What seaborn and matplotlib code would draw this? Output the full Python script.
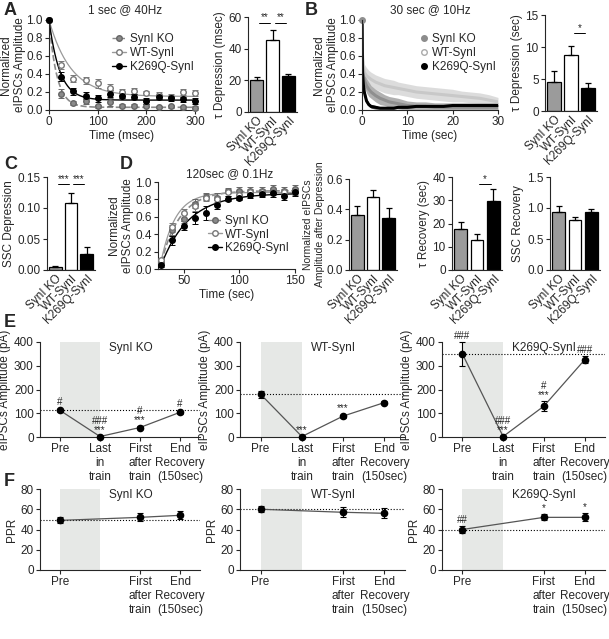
import numpy as np
import seaborn as sns
import matplotlib.pyplot as plt
from matplotlib.lines import Line2D

sns.set_style("ticks")
plt.rcParams['font.family'] = ['Liberation Sans', 'DejaVu Sans']
plt.rcParams['axes.linewidth'] = 0.8

FS = 8.5
groups = ['SynI KO', 'WT-SynI', 'K269Q-SynI']
bar_colors = ['#9b9b9b', 'white', 'black']
KO_GRAY = '#8a8a8a'
WT_GRAY = '#9a9a9a'

# ---- A: 1 sec @ 40Hz ----
a_time = [0, 25, 50, 75, 100, 125, 150, 175, 200, 225, 250, 275, 300]
a_ko = [1.0, 0.18, 0.08, 0.10, 0.04, 0.09, 0.05, 0.05, 0.05, 0.03, 0.04, 0.03, 0.02]
a_ko_err = [0, 0.05, 0.02, 0.03, 0.02, 0.04, 0.02, 0.02, 0.02, 0.01, 0.02, 0.02, 0.02]
a_wt = [1.0, 0.50, 0.35, 0.33, 0.30, 0.25, 0.20, 0.21, 0.19, 0.17, 0.15, 0.20, 0.19]
a_wt_err = [0, 0.04, 0.04, 0.04, 0.05, 0.04, 0.03, 0.03, 0.02, 0.03, 0.03, 0.03, 0.03]
a_kq = [1.0, 0.37, 0.21, 0.16, 0.13, 0.18, 0.16, 0.15, 0.10, 0.14, 0.13, 0.12, 0.10]
a_kq_err = [0, 0.05, 0.04, 0.04, 0.04, 0.04, 0.03, 0.03, 0.03, 0.02, 0.03, 0.03, 0.03]
# single exponential fit parameters (plateau, tau in msec)
a_fit_plateau = [0.03, 0.15, 0.11]
a_fit_tau = [16, 45, 22]
a_tau_bar = [20, 45.5, 22.5]
a_tau_bar_err = [2, 6.5, 1.2]

# ---- B: 30 sec @ 10Hz ----
b_time = [0, 0.1, 0.3, 0.5, 1, 1.5, 2, 3, 4, 5, 6, 7, 8, 10, 12, 14, 16, 18, 20, 22, 24, 26, 28, 30]
b_wt = [1.0, 0.62, 0.48, 0.42, 0.38, 0.36, 0.34, 0.31, 0.29, 0.27, 0.26, 0.25, 0.24, 0.22,
        0.20, 0.19, 0.18, 0.17, 0.16, 0.15, 0.14, 0.13, 0.11, 0.09]
b_wt_err = [0, 0.10, 0.09, 0.09, 0.09, 0.08, 0.08, 0.08, 0.08, 0.08, 0.08, 0.08, 0.07, 0.07,
            0.07, 0.07, 0.07, 0.07, 0.07, 0.06, 0.06, 0.06, 0.06, 0.05]
b_ko = [1.0, 0.50, 0.38, 0.33, 0.27, 0.23, 0.20, 0.16, 0.13, 0.11, 0.09, 0.08, 0.07, 0.05,
        0.04, 0.04, 0.03, 0.03, 0.03, 0.03, 0.03, 0.03, 0.03, 0.03]
b_ko_err = [0, 0.08, 0.08, 0.08, 0.08, 0.08, 0.07, 0.07, 0.07, 0.06, 0.06, 0.06, 0.06, 0.05,
            0.05, 0.05, 0.05, 0.05, 0.05, 0.05, 0.05, 0.05, 0.05, 0.05]
b_kq = [1.0, 0.42, 0.28, 0.20, 0.10, 0.06, 0.04, 0.03, 0.02, 0.02, 0.02, 0.02, 0.03, 0.03,
        0.04, 0.04, 0.04, 0.04, 0.05, 0.05, 0.05, 0.05, 0.05, 0.05]
b_kq_err = [0, 0.06, 0.05, 0.04, 0.03, 0.02, 0.02, 0.02, 0.01, 0.01, 0.01, 0.01, 0.01, 0.01,
            0.01, 0.01, 0.01, 0.01, 0.01, 0.01, 0.01, 0.01, 0.01, 0.01]
b_tau_bar = [4.5, 8.8, 3.6]
b_tau_bar_err = [1.8, 1.4, 0.8]

# ---- C ----
c_ssc = [0.005, 0.108, 0.026]
c_ssc_err = [0.002, 0.016, 0.011]

# ---- D: 120sec @ 0.1Hz ----
d_time = [30, 40, 50, 60, 70, 80, 90, 100, 110, 120, 130, 140, 150]
d_ko = [0.08, 0.45, 0.58, 0.75, 0.83, 0.82, 0.90, 0.90, 0.90, 0.90, 0.92, 0.90, 0.92]
d_ko_err = [0.03, 0.06, 0.05, 0.05, 0.04, 0.05, 0.03, 0.04, 0.04, 0.04, 0.04, 0.04, 0.05]
d_wt = [0.10, 0.48, 0.64, 0.72, 0.82, 0.80, 0.88, 0.85, 0.88, 0.88, 0.89, 0.88, 0.89]
d_wt_err = [0.03, 0.05, 0.05, 0.05, 0.04, 0.04, 0.04, 0.04, 0.04, 0.04, 0.04, 0.04, 0.04]
d_kq = [0.05, 0.33, 0.50, 0.59, 0.64, 0.74, 0.81, 0.82, 0.85, 0.86, 0.87, 0.84, 0.88]
d_kq_err = [0.03, 0.05, 0.05, 0.07, 0.08, 0.05, 0.03, 0.03, 0.03, 0.03, 0.04, 0.05, 0.04]
# recovery fit parameters (start, plateau, tau in sec)
d_fit_start = [0.08, 0.10, 0.05]
d_fit_plateau = [0.90, 0.88, 0.87]
d_fit_tau = [17, 13, 25]
d_amp_after = [0.36, 0.48, 0.34]
d_amp_after_err = [0.06, 0.05, 0.07]
d_tau_rec = [17.5, 13, 29.5]
d_tau_rec_err = [3, 2.5, 5.5]
d_ssc_rec = [0.94, 0.81, 0.93]
d_ssc_rec_err = [0.09, 0.04, 0.06]

# ---- E: eIPSC amplitudes (pA) ----
e_labels = ['Pre', 'Last\nin\ntrain', 'First\nafter\ntrain', 'End\nRecovery\n(150sec)']
e_ko = [112, 2, 40, 104]
e_ko_err = [8, 1, 5, 6]
e_wt = [180, 2, 88, 145]
e_wt_err = [15, 1, 6, 5]
e_kq = [350, 2, 130, 325]
e_kq_err = [50, 1, 20, 15]
e_ko_marks = ['#', '###\n***', '#\n***', '#']
e_wt_marks = ['', '***', '***', '']
e_kq_marks = ['###', '###\n***', '#\n***', '###']

# ---- F: PPR ----
f_labels = ['Pre', 'First\nafter\ntrain', 'End\nRecovery\n(150sec)']
f_ko = [49, 52, 54]
f_ko_err = [3, 4, 4]
f_wt = [60, 57, 56]
f_wt_err = [3, 5, 5]
f_kq = [40, 52, 52]
f_kq_err = [3, 3, 4]
f_kq_marks = ['##', '*', '*']

W, H = 609, 639
fig = plt.figure(figsize=(W / 100, H / 100), dpi=100)


def add_ax(l, t, r, b):
    return fig.add_axes([l / W, 1 - b / H, (r - l) / W, (b - t) / H])


def style(ax):
    sns.despine(ax=ax)
    ax.tick_params(direction='out', length=3, width=0.8, labelsize=FS, pad=1.5)


def bar_panel(ax, vals, errs, ylim, yticks, ylabel, yticklabels=None, sigs=(), yfs=FS, ypad=2):
    sns.barplot(x=groups, y=vals, hue=groups, palette=bar_colors, saturation=1,
                edgecolor='black', linewidth=0.9, width=0.8, legend=False, ax=ax)
    ax.errorbar(range(3), vals, yerr=[np.zeros(3), errs], fmt='none', ecolor='black',
                elinewidth=0.9, capsize=2.5, capthick=0.9, zorder=1)
    ax.set_ylim(*ylim)
    ax.set_yticks(yticks)
    if yticklabels is not None:
        ax.set_yticklabels(yticklabels)
    ax.set_ylabel(ylabel, fontsize=yfs, labelpad=ypad)
    ax.set_xlabel('')
    style(ax)
    ax.tick_params(axis='x', length=0, pad=2)
    ax.set_xticks(range(3))
    ax.set_xticklabels(groups, rotation=45, ha='right', rotation_mode='anchor', fontsize=FS)
    for x1, x2, y, s in sigs:
        ax.plot([x1, x2], [y, y], color='black', lw=0.7)
        ax.text((x1 + x2) / 2, y, s, ha='center', va='bottom', fontsize=7)


def legend_handles(kind):
    if kind == 'line':
        return [Line2D([], [], color=KO_GRAY, ls='--', lw=1, marker='o', ms=4, mfc=KO_GRAY, mec='#666'),
                Line2D([], [], color=WT_GRAY, lw=1, marker='o', ms=4, mfc='white', mec='#777'),
                Line2D([], [], color='black', lw=1, marker='o', ms=4, mfc='black', mec='black')]
    return [Line2D([], [], ls='', marker='o', ms=4, mfc='#8c8c8c', mec='#8c8c8c'),
            Line2D([], [], ls='', marker='o', ms=4, mfc='white', mec='#aaa'),
            Line2D([], [], ls='', marker='o', ms=4, mfc='black', mec='black')]


# ================= A =================
ax = add_ax(49, 20, 195, 110)
t_fit = np.linspace(0, 300, 301)
fit_styles = [(KO_GRAY, '--', 1.2), (WT_GRAY, '-', 0.9), ('black', '-', 1.0)]
for (c, ls, lw), p, tau in zip(fit_styles, a_fit_plateau, a_fit_tau):
    sns.lineplot(x=t_fit, y=p + (1 - p) * np.exp(-t_fit / tau), color=c, ls=ls, lw=lw, ax=ax)
for y, e, fc, ec in [(a_ko, a_ko_err, KO_GRAY, '#666'), (a_wt, a_wt_err, 'white', '#777'),
                     (a_kq, a_kq_err, 'black', 'black')]:
    ax.errorbar(a_time, y, yerr=e, fmt='o', ms=4, mfc=fc, mec=ec, ecolor=ec, elinewidth=0.7,
                capsize=2, capthick=0.7, clip_on=False, zorder=3)
ax.set_xlim(0, 300)
ax.set_ylim(0, 1.0)
ax.set_xticks([0, 100, 200, 300])
ax.set_yticks([0, 0.2, 0.4, 0.6, 0.8, 1.0])
ax.set_yticklabels(['0.0', '0.2', '0.4', '0.6', '0.8', '1.0'])
ax.set_xlabel('Time (msec)', fontsize=FS, labelpad=1)
ax.set_ylabel('Normalized\neIPSCs Amplitude', fontsize=FS, labelpad=0.5)
style(ax)
ax.legend(legend_handles('line'), groups, loc='upper right', bbox_to_anchor=(1.03, 0.92), frameon=False,
          fontsize=FS, handlelength=1.2, handletextpad=0.3, labelspacing=0.15, borderpad=0)

ax = add_ax(248, 17, 297, 112)
bar_panel(ax, a_tau_bar, a_tau_bar_err, (0, 60), [0, 20, 40, 60], 'τ Depression (msec)',
          sigs=[(0.15, 0.85, 56.5, '**'), (1.15, 1.85, 56.5, '**')])

# ================= B =================
ax = add_ax(362, 20, 498, 110)
for y, e, c, band in [(b_wt, b_wt_err, '#c8c8c8', '#d9d9d9'), (b_ko, b_ko_err, '#8f8f8f', '#a8a8a8'),
                      (b_kq, b_kq_err, 'black', '#444')]:
    ax.fill_between(b_time, np.array(y) - e, np.array(y) + e, color=band, lw=0, alpha=0.9)
    sns.lineplot(x=b_time, y=y, color=c, lw=2.2, ax=ax)
ax.plot([0], [1.0], 'o', ms=4, color='#8f8f8f', clip_on=False)
ax.set_xlim(0, 30)
ax.set_ylim(0, 1.0)
ax.set_xticks([0, 10, 20, 30])
ax.set_yticks([0, 0.2, 0.4, 0.6, 0.8, 1.0])
ax.set_yticklabels(['0.0', '0.2', '0.4', '0.6', '0.8', '1.0'])
ax.set_xlabel('Time (sec)', fontsize=FS, labelpad=1)
ax.set_ylabel('Normalized\neIPSCs Amplitude', fontsize=FS, labelpad=0.5)
style(ax)
ax.legend(legend_handles('dot'), groups, loc='upper right', bbox_to_anchor=(1.03, 0.92), frameon=False,
          fontsize=FS, handlelength=0.8, handletextpad=0.3, labelspacing=0.15, borderpad=0)

ax = add_ax(545, 15, 597, 111)
bar_panel(ax, b_tau_bar, b_tau_bar_err, (0, 15), [0, 5, 10, 15], 'τ Depression (sec)',
          sigs=[(1.15, 1.85, 12.2, '*')])

# ================= C =================
ax = add_ax(47, 177, 95, 270)
bar_panel(ax, c_ssc, c_ssc_err, (0, 0.15), [0, 0.05, 0.10, 0.15], 'SSC Depression',
          yticklabels=['0.00', '0.05', '0.10', '0.15'],
          sigs=[(0.15, 0.85, 0.138, '***'), (1.15, 1.85, 0.138, '***')])

# ================= D =================
ax = add_ax(158, 182, 295, 269)
t_fit = np.linspace(30, 150, 241)
for (c, ls, lw), y0, p, tau in zip(fit_styles, d_fit_start, d_fit_plateau, d_fit_tau):
    sns.lineplot(x=t_fit, y=p - (p - y0) * np.exp(-(t_fit - 30) / tau), color=c, ls=ls, lw=lw, ax=ax)
for y, e, fc, ec in [(d_ko, d_ko_err, KO_GRAY, '#666'), (d_wt, d_wt_err, 'white', '#777'),
                     (d_kq, d_kq_err, 'black', 'black')]:
    ax.errorbar(d_time, y, yerr=e, fmt='o', ms=4, mfc=fc, mec=ec, ecolor=ec, elinewidth=0.7,
                capsize=2, capthick=0.7, clip_on=False, zorder=3)
ax.set_xlim(27, 150)
ax.set_ylim(0, 1.0)
ax.set_xticks([50, 100, 150])
ax.set_yticks([0, 0.2, 0.4, 0.6, 0.8, 1.0])
ax.set_yticklabels(['0.0', '0.2', '0.4', '0.6', '0.8', '1.0'])
ax.set_xlabel('Time (sec)', fontsize=FS, labelpad=1)
ax.set_ylabel('Normalized\neIPSCs Amplitude', fontsize=FS, labelpad=1)
style(ax)
ax.legend(legend_handles('line'), groups, loc='lower right', bbox_to_anchor=(1.0, 0.1), frameon=False,
          fontsize=FS, handlelength=1.2, handletextpad=0.3, labelspacing=0.15, borderpad=0)

ax = add_ax(349, 179, 397, 270)
bar_panel(ax, d_amp_after, d_amp_after_err, (0, 0.6), [0, 0.2, 0.4, 0.6],
          'Normalized eIPSCs\nAmplitude after Depression', yticklabels=['0.0', '0.2', '0.4', '0.6'],
          yfs=7.5, ypad=1)
ax = add_ax(452, 177, 502, 270)
bar_panel(ax, d_tau_rec, d_tau_rec_err, (0, 40), [0, 10, 20, 30, 40], 'τ Recovery (sec)',
          sigs=[(1.15, 1.85, 37, '*')])
ax = add_ax(550, 177, 600, 270)
bar_panel(ax, d_ssc_rec, d_ssc_rec_err, (0, 1.5), [0, 0.5, 1.0, 1.5], 'SSC Recovery',
          yticklabels=['0.0', '0.5', '1.0', '1.5'])

# ================= E =================
e_boxes = [(40, 342, 200, 437), (240, 342, 405, 437), (442, 342, 605, 437)]
e_sets = [(e_ko, e_ko_err, e_ko_marks, 'SynI KO'), (e_wt, e_wt_err, e_wt_marks, 'WT-SynI'),
          (e_kq, e_kq_err, e_kq_marks, 'K269Q-SynI')]
for box, (vals, errs, marks, title) in zip(e_boxes, e_sets):
    ax = add_ax(*box)
    x = list(range(len(vals)))
    ax.axvspan(0, 1, color='#e6e8e6', lw=0, zorder=0)
    ax.axhline(vals[0], color='black', ls=':', lw=0.8, zorder=1)
    sns.lineplot(x=x, y=vals, color='#555', lw=0.9, ax=ax, zorder=2)
    ax.errorbar(x, vals, yerr=errs, fmt='o', ms=4.5, color='black', elinewidth=0.8,
                capsize=2.5, capthick=0.8, clip_on=False, zorder=3)
    for xi, v, e, m in zip(x, vals, errs, marks):
        if m:
            ax.text(xi, v + e + 6, m, ha='center', va='bottom', fontsize=7, linespacing=0.85,
                    clip_on=False)
    ax.set_xlim(-0.5, 3.5)
    ax.set_ylim(0, 400)
    ax.set_yticks([0, 100, 200, 300, 400])
    ax.set_xticks(x)
    ax.set_xticklabels(e_labels, fontsize=FS)
    ax.set_ylabel('eIPSCs Amplitude (pA)', fontsize=FS, labelpad=2)
    ax.text(0.43, 1.0, title, transform=ax.transAxes, ha='left', va='top', fontsize=FS)
    style(ax)

# ================= F =================
f_boxes = [(40, 489, 200, 570), (240, 489, 405, 570), (442, 489, 605, 570)]
f_sets = [(f_ko, f_ko_err, None, 'SynI KO'), (f_wt, f_wt_err, None, 'WT-SynI'),
          (f_kq, f_kq_err, f_kq_marks, 'K269Q-SynI')]
f_pos = [0, 2, 3]
for box, (vals, errs, marks, title) in zip(f_boxes, f_sets):
    ax = add_ax(*box)
    ax.axvspan(0, 1, color='#e6e8e6', lw=0, zorder=0)
    ax.axhline(vals[0], color='black', ls=':', lw=0.8, zorder=1)
    sns.lineplot(x=f_pos, y=vals, color='#555', lw=0.9, ax=ax, zorder=2)
    ax.errorbar(f_pos, vals, yerr=errs, fmt='o', ms=4.5, color='black', elinewidth=0.8,
                capsize=2.5, capthick=0.8, clip_on=False, zorder=3)
    if marks:
        for xi, v, e, m in zip(f_pos, vals, errs, marks):
            ax.text(xi, v + e + 1.5, m, ha='center', va='bottom', fontsize=7)
    ax.set_xlim(-0.5, 3.5)
    ax.set_ylim(0, 80)
    ax.set_yticks([0, 20, 40, 60, 80])
    ax.set_xticks(f_pos)
    ax.set_xticklabels(f_labels, fontsize=FS)
    ax.set_ylabel('PPR', fontsize=FS, labelpad=2)
    ax.text(0.43, 1.0, title, transform=ax.transAxes, ha='left', va='top', fontsize=FS)
    style(ax)

# titles and panel letters
fig.text(125 / W, 1 - 10 / H, '1 sec @ 40Hz', ha='center', va='center', fontsize=FS)
fig.text(430 / W, 1 - 10 / H, '30 sec @ 10Hz', ha='center', va='center', fontsize=FS)
fig.text(230 / W, 1 - 174 / H, '120sec @ 0.1Hz', ha='center', va='center', fontsize=FS)
for letter, x, y in [('A', 4, 2), ('B', 305, 2), ('C', 4, 156), ('D', 120, 156), ('E', 4, 314), ('F', 4, 473)]:
    fig.text(x / W, 1 - y / H, letter, ha='left', va='top', fontsize=13, fontweight='bold')

fig.savefig('out.png', dpi=100)
